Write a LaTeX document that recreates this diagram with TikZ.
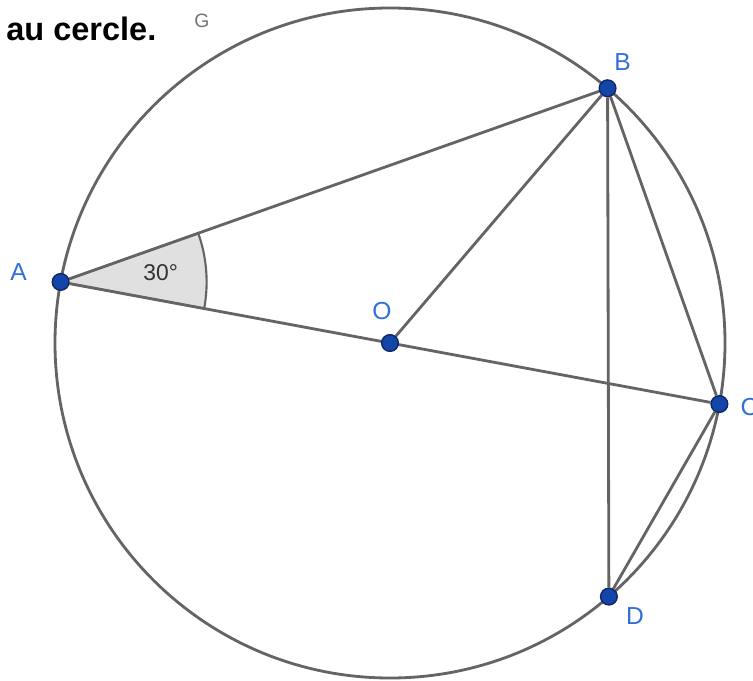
\documentclass[tikz,border=0pt]{standalone}
\usepackage{fontspec}
\setmainfont{Liberation Sans}
\usetikzlibrary{calc,backgrounds}
\definecolor{linegray}{RGB}{100,100,100}
\definecolor{sectgray}{RGB}{224,224,224}
\definecolor{dotblue}{RGB}{20,70,170}
\definecolor{dotedge}{RGB}{15,40,100}
\definecolor{lblblue}{RGB}{50,110,215}
\begin{document}
\begin{tikzpicture}[x=0.02cm, y=0.02cm,
  seg/.style={draw=linegray, line width=1.6pt},
  pt/.style={circle, fill=dotblue, draw=dotedge, line width=0.8pt, inner sep=0pt, minimum size=9.5pt},
  ptlbl/.style={text=lblblue, font=\fontsize{14}{16}\selectfont}]
\useasboundingbox (0,0) rectangle (753,680);
\coordinate (Oc) at (390,337);
\foreach \n/\a in {A/169.5,B/49.5,C/-10.5,D/-49.2} {
  \node[pt] (\n) at ($(Oc)+(\a:335)$) {};
}
\node[pt] (O) at (Oc) {};
\begin{scope}[on background layer]
  \filldraw[fill=sectgray, draw=linegray, line width=1.2pt] (A.center) -- ++(-10.5:146) arc[start angle=-10.5, end angle=19.5, radius=146] -- cycle;
  \draw[seg] (O.center) circle[radius=335];
  \foreach \p/\q in {A/B,A/C,O/B,B/C,B/D,C/D}
    \draw[seg] (\p) -- (\q);
\end{scope}
% labels
\node[ptlbl] (lA) at ($(A)+(-42,10)$) {A};
\node[ptlbl] (lB) at ($(B)+(15,26)$) {B};
\node[ptlbl] (lO) at ($(O)+(-8,32)$) {O};
\node[ptlbl] (lC) at ($(C)+(30,-3)$) {C};
\node[ptlbl] (lD) at ($(D)+(26,-19)$) {D};
\node[text=black!55, font=\fontsize{11}{13}\selectfont] (lG) at (202,659) {G};
\node[font=\fontsize{13}{15}\selectfont, text=black!80] (ang) at ($(A)+(100,9)$) {30°};
\node[anchor=base west, inner sep=0pt, font=\bfseries\fontsize{18.5}{22}\selectfont] (title) at (6,639) {au cercle.};
\end{tikzpicture}
\end{document}
